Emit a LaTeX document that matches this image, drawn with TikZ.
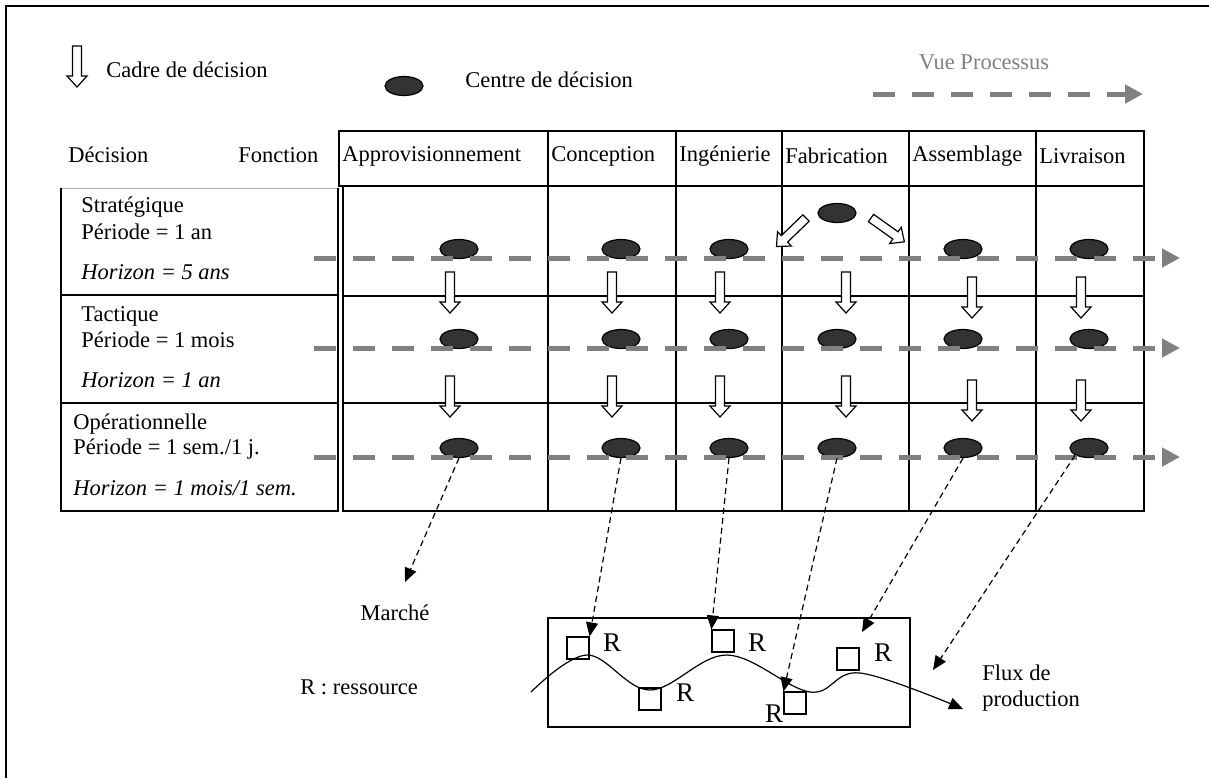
\documentclass[tikz,border=0pt]{standalone}
\usepackage{fontspec}
\setmainfont{Liberation Serif}
\usetikzlibrary{arrows.meta,shapes.geometric}
\definecolor{vue}{HTML}{808080}
\definecolor{centrefill}{HTML}{333333}
\tikzset{
  cadre/.pic={\draw[fill=white,line width=0.6pt] (-4.5,0) -- (-4.5,30) -- (-10,30) -- (0,41) -- (10,30) -- (4.5,30) -- (4.5,0) -- cycle;},
  centre/.style={ellipse,draw,line width=0.6pt,fill=centrefill,minimum width=19pt,minimum height=9.5pt},
  vue/.style={draw=vue,line width=2.5pt,dash pattern=on 11pt off 8.5pt,-{Triangle[length=9pt,width=9pt]}},
  flux/.style={line width=0.6pt,dash pattern=on 3pt off 2pt,-{Triangle[length=7pt,width=6pt]}},
  res/.style={draw,line width=0.6pt,minimum size=11pt},
  rlab/.style={font=\fontsize{13.5}{16}\selectfont}
}
\begin{document}
\begin{tikzpicture}[x=0.5pt,y=-0.5pt,inner sep=0pt,font=\fontsize{11.25}{13}\selectfont]
    \useasboundingbox (0,0) rectangle (1209,778);
    \draw[line width=0.8pt] (1209,6) -- (6,6) -- (6,778);

    % legende
    \pic at (77,46) {cadre};
    \node[anchor=west] (cadre) at (106,70) {Cadre de décision};
    \node[centre] (leg) at (404,86) {};
    \node[anchor=west] (centre) at (465,80) {Centre de décision};
    \node[text=vue] (vue) at (984,62) {Vue Processus};
    \draw[vue] (873,94) -- (1143,94);

    % tableau
    \node[anchor=west] (dec) at (68,155) {Décision};
    \node[anchor=west] (fct) at (238,155) {Fonction};
    \draw[line width=0.7pt] (339,131) rectangle (1144,186);
    \draw[line width=0.7pt] (343,186) -- (343,511) -- (1144,511) -- (1144,186);
    \foreach \x in {548,676,782,909,1036} \draw[line width=0.7pt] (\x,131) -- (\x,511);
    \foreach \y in {296,403} \draw[line width=0.7pt] (343,\y) -- (1144,\y);
    \draw[vue!60,line width=0.5pt] (61,188) -- (338,188);
    \draw[line width=0.7pt] (61,188) -- (61,511) -- (338,511) -- (338,188);
    \foreach \y in {295,403} \draw[line width=0.7pt] (61,\y) -- (338,\y);

    \foreach \x/\t [count=\i] in {339/Approvisionnement,548/Conception,676/Ingénierie,782/Fabrication,909/Assemblage,1036/Livraison}
        \node[anchor=west] (fn\i) at (\x+3,156) {\t};

    \node[anchor=west] (strat) at (81,207) {Stratégique};
    \node[anchor=west] (pstrat) at (81,232) {Période = 1 an};
    \node[anchor=west] (hstrat) at (81,272) {\textit{Horizon = 5 ans}};
    \node[anchor=west] (tact) at (81,316) {Tactique};
    \node[anchor=west] (ptact) at (81,340) {Période = 1 mois};
    \node[anchor=west] (htact) at (81,380) {\textit{Horizon = 1 an}};
    \node[anchor=west] (oper) at (73,424) {Opérationnelle};
    \node[anchor=west] (poper) at (73,449) {Période = 1 sem./1 j.};
    \node[anchor=west] (hoper) at (73,488) {\textit{Horizon = 1 mois/1 sem.}};

    % centres de decision
    \foreach \x/\n in {459/a,621/b,729/c,837/d,963/e,1089/f} {
        \node[centre] (t\n) at (\x,339) {};
        \node[centre] (o\n) at (\x,448) {};
    }
    \foreach \x/\n in {459/a,621/b,729/c,963/e,1089/f} \node[centre] (s\n) at (\x,249) {};
    \node[centre] (sd) at (837,213) {};

    \foreach \y in {258,348,457} \draw[vue] (314,\y) -- (1180,\y);

    % cadres de decision
    \foreach \x in {450,612,720,846} {\pic at (\x,272) {cadre}; \pic at (\x,376) {cadre};}
    \foreach \x in {972,1081} {\pic at (\x,277) {cadre}; \pic at (\x,380) {cadre};}
    \pic[rotate=-46] at (806,218) {cadre};
    \pic[rotate=54.5] at (871,218) {cadre};

    % flux de production
    \node (marche) at (395,613) {Marché};
    \node (legr) at (359,687) {R : ressource};
    \draw[line width=0.7pt] (548,618) rectangle (910,727);
    \node[res] (r1) at (578,648) {};
    \node[res] (r2) at (650,699) {};
    \node[res] (r3) at (723,641) {};
    \node[res] (r4) at (795,703) {};
    \node[res] (r5) at (848,659) {};
    \node[rlab] (l1) at (612,643) {R};
    \node[rlab] (l2) at (685,693) {R};
    \node[rlab] (l3) at (757,643) {R};
    \node[rlab,fill=white] (l4) at (774,714) {R};
    \node[rlab] (l5) at (883,653) {R};
    \draw[line width=0.6pt,-{Triangle[length=7pt,width=6pt]}] plot[smooth,tension=0.6] coordinates {(531,692) (587,655) (650,690) (727,655) (810,692) (860,673) (963,709)};
    \node[align=left,anchor=west] (flux) at (982,688) {Flux de\\production};

    \coordinate (ma) at (405,582);
    \coordinate (fe) at (862,632);
    \coordinate (ff) at (933,670);
    \draw[flux] (oa.south) -- (ma);
    \draw[flux] (ob.south) -- (r1.north east);
    \draw[flux] (oc.south) -- (r3.north west);
    \draw[flux] (od.south) -- (r4.north west);
    \draw[flux] (oe.south) -- (fe);
    \draw[flux] (of.south west) -- (ff);
\end{tikzpicture}
\end{document}
